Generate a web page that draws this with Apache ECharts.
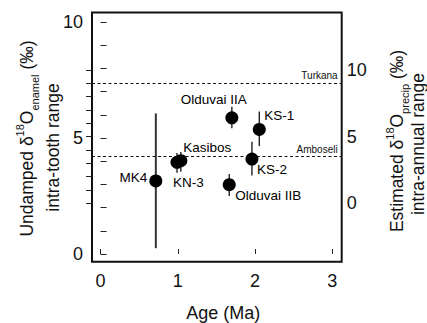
<!DOCTYPE html>
<html><head><meta charset="utf-8">
<script src="https://cdn.jsdelivr.net/npm/echarts@6/dist/echarts.min.js"></script>
<style>html,body{margin:0;padding:0;background:#fff}#c{width:427px;height:323px}</style>
</head><body><div id="c"></div>
<script>
// ---- data ----
const sites     = ['MK4', 'KN-3', 'Kasibos', 'Olduvai IIB', 'Olduvai IIA', 'KS-2', 'KS-1'];
const ages      = [0.716, 0.99, 1.04, 1.666, 1.70, 1.96, 2.055];
const ranges    = [3.15, 3.95, 4.02, 2.99, 5.87, 4.09, 5.37];
const rangeLow  = [0.25, 3.50, 3.55, 2.50, 5.42, 3.38, 4.66];
const rangeHigh = [6.06, 4.35, 4.40, 3.45, 6.35, 4.84, 6.14];
const refNames  = ['Turkana', 'Amboseli'];
const refValues = [7.38, 4.22];
const xTickLabels = [0, 1, 2, 3];
const leftTickLabels = [0, 5, 10];
const rightTickLabels = [0, 5, 10];

// ---- layout / style (not data) ----
const FONT = "'Liberation Sans', Arial, Helvetica, sans-serif";
const INK = '#111';
const labelOffsets = [[-22.5, -3], [11.5, 20], [26.5, -13.5], [39, 11], [-18, -18.7], [20, 10], [20, -14]];
const frame = {left: 92, top: 12.5, right: 341.7, bottom: 261.7};
const dataBox = {left: 100.5, top: 22, right: 332.3, bottom: 254};
const pxPerY = (dataBox.bottom - dataBox.top) / 10;
const frameYMin = 0 - (frame.bottom - dataBox.bottom) / pxPerY;
const frameYMax = 10 + (dataBox.top - frame.top) / pxPerY;

const points = sites.map((s, i) => ({
  name: s,
  value: [ages[i], ranges[i]],
  label: {offset: labelOffsets[i]}
}));
const bars = sites.map((s, i) => [ages[i], rangeLow[i], rangeHigh[i], i]);

const chart = echarts.init(document.getElementById('c'), null, {renderer: 'svg'});

const rich = {
  m: {fontSize: 17.5, lineHeight: 26, fontFamily: FONT, color: INK},
  sup: {fontSize: 11, lineHeight: 20, verticalAlign: 'top', fontFamily: FONT, color: INK},
  sub: {fontSize: 11, lineHeight: 12, verticalAlign: 'bottom', fontFamily: FONT, color: INK}
};
function rotTitle(x, y, text) {
  return {type: 'text', x: x, y: y, rotation: Math.PI / 2,
    style: {text: text, rich: rich, align: 'center', verticalAlign: 'middle', fill: INK}};
}

chart.setOption({
  animation: false,
  textStyle: {fontFamily: FONT},
  grid: [
    {left: dataBox.left, top: dataBox.top, width: dataBox.right - dataBox.left, height: dataBox.bottom - dataBox.top},
    {left: frame.left, top: frame.top, width: frame.right - frame.left, height: frame.bottom - frame.top,
     show: true, borderColor: INK, borderWidth: 2, backgroundColor: 'transparent'},
    {left: frame.left, top: 70, width: frame.right - frame.left, height: 133.3}
  ],
  xAxis: [
    {gridIndex: 0, type: 'value', min: 0, max: 3, interval: 1, position: 'bottom', offset: frame.bottom - dataBox.bottom,
     axisLine: {show: false}, splitLine: {show: false},
     axisTick: {inside: true, length: 5, lineStyle: {color: '#222', width: 1}},
     axisLabel: {fontSize: 18, color: INK, margin: 10, fontFamily: FONT,
       formatter: v => xTickLabels.includes(v) ? String(v) : ''}},
    {gridIndex: 1, type: 'value', min: 0, max: 1, show: false},
    {gridIndex: 2, type: 'value', show: false}
  ],
  yAxis: [
    {gridIndex: 0, type: 'value', min: 0, max: 10, interval: 1, position: 'left', offset: dataBox.left - frame.left,
     axisLine: {show: false}, splitLine: {show: false},
     axisTick: {inside: true, length: 6, lineStyle: {color: '#222', width: 1}},
     axisLabel: {fontSize: 18, color: INK, margin: 9, fontFamily: FONT,
       formatter: v => leftTickLabels.includes(v) ? String(v) : ''}},
    {gridIndex: 1, type: 'value', min: frameYMin, max: frameYMax, show: false},
    {gridIndex: 2, type: 'value', min: 0, max: 10, interval: 1, position: 'right',
     axisLine: {show: false}, splitLine: {show: false},
     axisTick: {inside: true, length: 6, lineStyle: {color: '#222', width: 1}},
     axisLabel: {fontSize: 18, color: INK, margin: 5, fontFamily: FONT,
       formatter: v => rightTickLabels.includes(v) ? String(v) : ''}}
  ],
  graphic: [
    rotTitle(27, 138.5, '{m|Undamped δ}{sup|18}{m|O}{sub|enamel}{m| (‰)}'),
    rotTitle(53, 147.5, '{m|intra-tooth range}'),
    rotTitle(397, 141, '{m|Estimated δ}{sup|18}{m|O}{sub|precip}{m| (‰)}'),
    rotTitle(418, 144, '{m|intra-annual range}'),
    {type: 'text', x: 223.3, y: 313, style: {text: 'Age (Ma)', font: '18px ' + FONT, fill: INK, align: 'center', verticalAlign: 'middle'}}
  ],
  series: [
    {type: 'line', xAxisIndex: 1, yAxisIndex: 1, data: [], showSymbol: false, silent: true,
     markLine: {
       silent: true, symbol: ['none', 'none'],
       lineStyle: {type: [3, 2.5], color: INK, width: 1},
       label: {show: true, position: 'insideEndTop', fontSize: 10, color: INK, distance: [4, 2], fontFamily: FONT,
         formatter: p => p.name},
       data: refNames.map((n, i) => ({name: n, yAxis: refValues[i]}))
     }},
    {type: 'custom', data: bars, clip: false, xAxisIndex: 0, yAxisIndex: 0,
     renderItem: (params, api) => {
       const p1 = api.coord([api.value(0), api.value(1)]);
       const p2 = api.coord([api.value(0), api.value(2)]);
       const big = api.value(3) === 0;
       return {type: 'line', shape: {x1: p1[0], y1: p1[1], x2: p2[0], y2: p2[1]},
         style: {stroke: big ? '#333' : '#111', lineWidth: big ? 2 : 1.3}};
     }},
    {type: 'scatter', data: points, symbolSize: 13, clip: false,
     itemStyle: {color: '#000', opacity: 1},
     emphasis: {disabled: true},
     label: {show: true, position: 'inside', formatter: p => p.name, fontSize: 13.5, color: '#000', fontFamily: FONT}}
  ]
});
</script></body></html>
